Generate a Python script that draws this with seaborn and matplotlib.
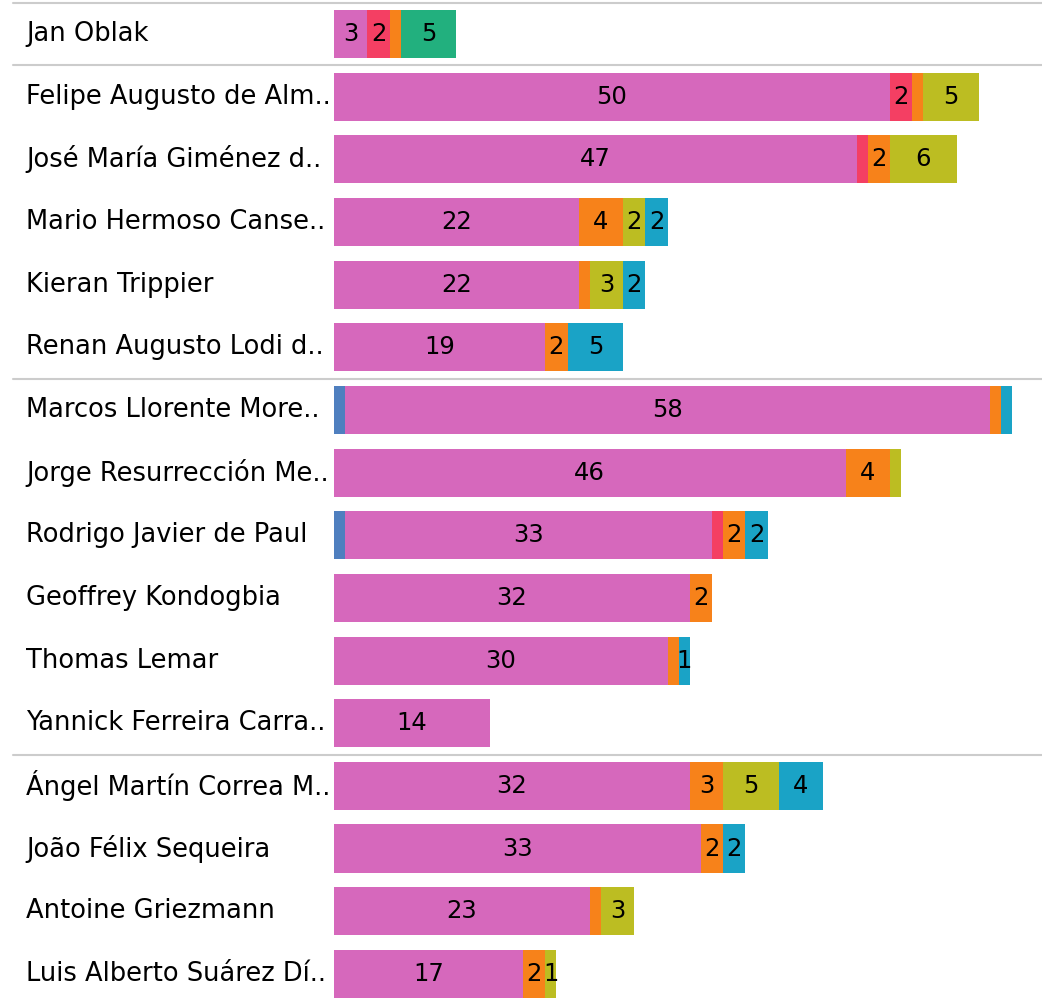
import matplotlib
matplotlib.use("Agg")
import matplotlib.pyplot as plt
import matplotlib.transforms as mtransforms
import numpy as np
import pandas as pd
import seaborn as sns

# Player names as shown on the axis (long names shortened with "..")
players = [
    "Jan Oblak",
    "Felipe Augusto de Alm..",
    "José María Giménez d..",
    "Mario Hermoso Canse..",
    "Kieran Trippier",
    "Renan Augusto Lodi d..",
    "Marcos Llorente More..",
    "Jorge Resurrección Me..",
    "Rodrigo Javier de Paul",
    "Geoffrey Kondogbia",
    "Thomas Lemar",
    "Yannick Ferreira Carra..",
    "Ángel Martín Correa M..",
    "João Félix Sequeira",
    "Antoine Griezmann",
    "Luis Alberto Suárez Dí..",
]

# Stacked segment values per player, in stacking order (left to right)
seg_blue   = [0, 0, 0, 0, 0, 0, 1, 0, 1, 0, 0, 0, 0, 0, 0, 0]
seg_pink   = [3, 50, 47, 22, 22, 19, 58, 46, 33, 32, 30, 14, 32, 33, 23, 17]
seg_red    = [2, 2, 1, 0, 0, 0, 0, 0, 1, 0, 0, 0, 0, 0, 0, 0]
seg_orange = [1, 1, 2, 4, 1, 2, 1, 4, 2, 2, 1, 0, 3, 2, 1, 2]
seg_green  = [5, 0, 0, 0, 0, 0, 0, 0, 0, 0, 0, 0, 0, 0, 0, 0]
seg_olive  = [0, 5, 6, 2, 3, 0, 0, 1, 0, 0, 0, 0, 5, 0, 3, 1]
seg_cyan   = [0, 0, 0, 2, 2, 5, 1, 0, 2, 0, 1, 0, 4, 2, 0, 0]

segments = ["blue", "pink", "red", "orange", "green", "olive", "cyan"]
seg_values = [seg_blue, seg_pink, seg_red, seg_orange, seg_green, seg_olive, seg_cyan]
seg_colors = ["#4f7fbf", "#d668bc", "#f43f63", "#f7821a", "#22b07e", "#bcbd22", "#1aa3c6"]

# Single-unit segments that still carry a value label
labelled_ones = [("Thomas Lemar", "cyan"), ("Luis Alberto Suárez Dí..", "olive")]

# Position groups are separated by horizontal rules before these rows
group_starts = [0, 1, 6, 12]

df = pd.DataFrame(dict(zip(segments, seg_values)), index=players)
cum = df.cumsum(axis=1)

sns.set_theme(style="white")
plt.rcParams["font.family"] = ["DejaVu Sans"]

fig = plt.figure(figsize=(10.42, 9.99), dpi=100)
ax = fig.add_axes([334 / 1042, 0.0, 1 - 334 / 1042, 1 - 2.7 / 999])

# Draw cumulative totals from the outermost segment inward so each
# shorter bar covers the longer one beneath it
for seg, color in reversed(list(zip(segments, seg_colors))):
    sns.barplot(
        x=cum[seg].values,
        y=players,
        order=players,
        orient="h",
        color=color,
        saturation=1,
        width=0.77,
        linewidth=0,
        ax=ax,
    )

# Value labels centred in each segment
for i, name in enumerate(players):
    for seg in segments:
        v = df.loc[name, seg]
        if v <= 0:
            continue
        if v < 2 and (name, seg) not in labelled_ones:
            continue
        xc = cum.loc[name, seg] - v / 2
        ax.text(xc, i, f"{v}", ha="center", va="center",
                fontsize=17.5, color="black")

ax.set_xlim(0, (1042 - 334) / 11.12)
ax.set_ylim(15.4, -0.5)
ax.set_xlabel("")
ax.set_ylabel("")
ax.set_xticks([])
for side in ["top", "right", "bottom", "left"]:
    ax.spines[side].set_visible(False)

ax.tick_params(axis="y", length=0, pad=(334 - 26) * 0.72, labelsize=18.5,
               labelcolor="black")
for lab in ax.get_yticklabels():
    lab.set_horizontalalignment("left")
    lab.set_verticalalignment("center")

# Group separators extending under the name column
trans = mtransforms.blended_transform_factory(ax.transAxes, ax.transData)
x0 = (13 - 334) / (1042 - 334)
for g in group_starts:
    ax.plot([x0, 1.0], [g - 0.5, g - 0.5], transform=trans,
            color="#cccccc", lw=1.5, clip_on=False, zorder=0)

fig.savefig("out.png", dpi=100)
